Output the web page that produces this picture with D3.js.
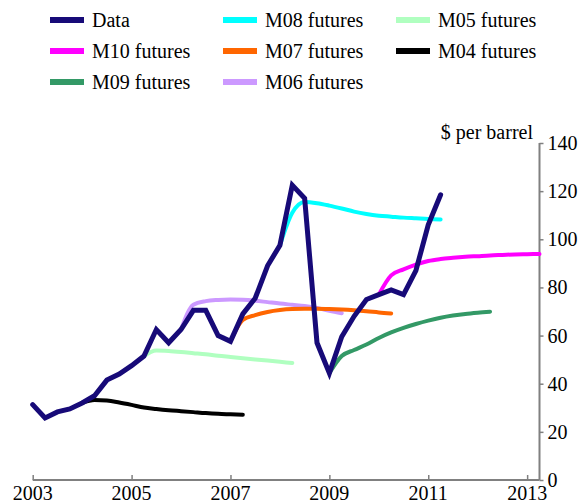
<!DOCTYPE html>
<html>
<head>
<meta charset="utf-8">
<script src="https://cdn.jsdelivr.net/npm/d3@7"></script>
<style>
  body { margin: 0; background: #fff; }
  svg text { font-family: "Liberation Serif", "DejaVu Serif", serif; }
</style>
</head>
<body>
<script>
// quarterly price data, starting 2003 Q1
var dataStart = 2003;
var dataValues = [31.3, 25.8, 28.3, 29.5, 32, 35, 41.5, 44, 47.5, 51.5, 62.5, 57,
    62.5, 70.5, 70.5, 60, 57.6, 69, 75.5, 89, 97.5, 122.5, 117, 57,
    44.4, 59.5, 68, 75, 77, 79, 77, 87, 106, 118.5];

// futures curves (quarterly points from start year)
var m04Start = 2004.0;
var m04Values = [32, 33.2, 33, 32.2, 31.2, 30.1, 29.5, 29, 28.6, 28.2, 27.8, 27.5, 27.3, 27.1];
var m05Start = 2005.25;
var m05Values = [51.5, 53.8, 53.6, 53.2, 52.7, 52.2, 51.6, 51.1, 50.6, 50.1, 49.6, 49.1, 48.6];
var m06Start = 2006.0;
var m06Values = [62.5, 72.8, 74.3, 74.8, 75, 74.9, 74.5, 73.9, 73.3, 72.8, 72.3, 71.5, 70.3, 69.3];
var m07Start = 2007.0;
var m07Values = [57.6, 66.5, 68.5, 69.8, 70.6, 71, 71.1, 71.1, 71, 70.8, 70.5, 70.1, 69.6, 69.2];
var m08Start = 2008.0;
var m08Values = [97.5, 111, 115.5, 115, 114, 112.8, 111.5, 110.5, 109.8, 109.4, 109, 108.7, 108.4, 108.2];
var m09Start = 2009.0;
var m09Values = [44.4, 51.5, 54, 56.3, 59, 61.3, 63.2, 64.8, 66.2, 67.4, 68.3, 69, 69.5, 69.9];
var m10Start = 2010.0;
var m10Values = [77, 85, 87.5, 89.5, 91, 91.8, 92.3, 92.7, 93, 93.3, 93.5, 93.7, 93.8, 93.9];

var xTicks = [2003, 2005, 2007, 2009, 2011, 2013];
var yTicks = [0, 20, 40, 60, 80, 100, 120, 140];

var width = 588, height = 503;

var svg = d3.select("body")
    .append("svg")
    .attr("width", width)
    .attr("height", height);

var x = d3.scaleLinear().domain([2003, 2013.25]).range([32.7, 539.5]);
var y = d3.scaleLinear().domain([0, 140]).range([480, 143]);

function toPoints(start, values) {
    return values.map((v, i) => ({ t: start + i * 0.25, v: v }));
}

var series = [
    { name: "M04 futures", color: "#000000", pts: toPoints(m04Start, m04Values) },
    { name: "M05 futures", color: "#b0ffc0", pts: toPoints(m05Start, m05Values) },
    { name: "M06 futures", color: "#cc99ff", pts: toPoints(m06Start, m06Values) },
    { name: "M07 futures", color: "#ff6600", pts: toPoints(m07Start, m07Values) },
    { name: "M08 futures", color: "#00ffff", pts: toPoints(m08Start, m08Values) },
    { name: "M09 futures", color: "#339966", pts: toPoints(m09Start, m09Values) },
    { name: "M10 futures", color: "#ff00ff", pts: toPoints(m10Start, m10Values) }
];
var dataSeries = { name: "Data", color: "#170a78", pts: toPoints(dataStart, dataValues) };

var line = d3.line().x(d => x(d.t)).y(d => y(d.v)).curve(d3.curveMonotoneX);
var dataLine = d3.line().x(d => x(d.t)).y(d => y(d.v));

// axes
var xAxis = svg.append("g")
    .attr("transform", "translate(0," + y(0) + ")")
    .call(d3.axisTop(x).tickValues(xTicks).tickSize(5).tickFormat(""));
var yAxis = svg.append("g")
    .attr("transform", "translate(" + x.range()[1] + ",0)")
    .call(d3.axisRight(y).tickValues(yTicks).tickSize(4).tickFormat(""));
[xAxis, yAxis].forEach(function (a) {
    a.select(".domain").attr("stroke", "#808080").attr("stroke-width", 2);
    a.selectAll(".tick line").attr("stroke", "#808080").attr("stroke-width", 1.5);
});
xAxis.select(".domain").attr("d", "M" + x.range()[0] + ",0H" + x.range()[1]);
yAxis.select(".domain").attr("d", "M0," + y(0) + "V" + y(140));

svg.append("g").selectAll("text")
    .data(xTicks)
    .enter()
    .append("text")
    .attr("x", d => x(d))
    .attr("y", y(0) + 20)
    .attr("text-anchor", "middle")
    .attr("font-size", 20)
    .text(d => d);

svg.append("g").selectAll("text")
    .data(yTicks)
    .enter()
    .append("text")
    .attr("x", x.range()[1] + 8)
    .attr("y", d => y(d))
    .attr("dy", "0.35em")
    .attr("font-size", 20)
    .text(d => d);

svg.append("text")
    .attr("x", 533)
    .attr("y", 139)
    .attr("text-anchor", "end")
    .attr("font-size", 20)
    .text("$ per barrel");

// lines
svg.append("g").selectAll("path")
    .data(series)
    .enter()
    .append("path")
    .attr("d", d => line(d.pts))
    .attr("fill", "none")
    .attr("stroke", d => d.color)
    .attr("stroke-width", 4)
    .attr("stroke-linecap", "round")
    .attr("stroke-linejoin", "round");

svg.append("path")
    .attr("d", dataLine(dataSeries.pts))
    .attr("fill", "none")
    .attr("stroke", dataSeries.color)
    .attr("stroke-width", 5)
    .attr("stroke-linecap", "round")
    .attr("stroke-linejoin", "miter");

// legend: 3 columns
var legendOrder = [dataSeries, series[6], series[5], series[4], series[3], series[2], series[1], series[0]];
var legend = svg.append("g").selectAll("g")
    .data(legendOrder)
    .enter()
    .append("g")
    .attr("transform", function (d, i) {
        var col = Math.floor(i / 3), row = i % 3;
        return "translate(" + (50 + col * 173) + "," + (20 + row * 31) + ")";
    });
legend.append("line")
    .attr("x1", 0).attr("x2", 34)
    .attr("stroke", d => d.color)
    .attr("stroke-width", 6);
legend.append("text")
    .attr("x", 42)
    .attr("dy", "0.35em")
    .attr("font-size", 20)
    .text(d => d.name);
</script>
</body>
</html>
